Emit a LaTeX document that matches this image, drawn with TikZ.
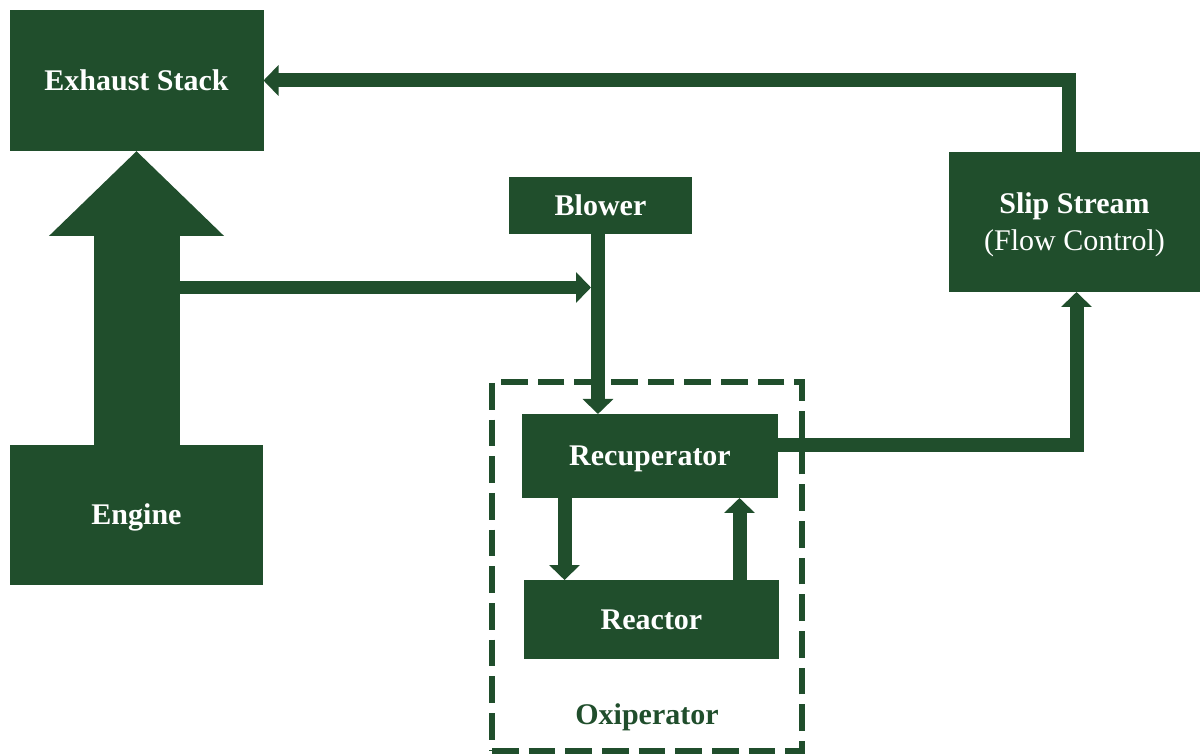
\documentclass[tikz,border=0pt]{standalone}
\usepackage{fontspec}
\setmainfont{Liberation Serif}
\usetikzlibrary{arrows.meta}
\definecolor{dg}{RGB}{32,78,44}
\begin{document}
\begin{tikzpicture}[x=0.75pt,y=-0.75pt,
  box/.style={fill=dg,text=white,inner sep=0pt,outer sep=0pt,align=center,
    font=\fontsize{22.5}{27.75}\selectfont},
  oneline/.style={text height=14.9pt,text depth=0pt},
  flow/.style={draw=dg,line width=10.5pt,-{Triangle[length=11.25pt,width=22.5pt]}},
  bigarrow/.style={draw=dg,line width=64.5pt,-{Triangle[length=63.75pt,width=127.5pt]}},
  dashbox/.style={draw=dg,line width=4.5pt,dash pattern=on 20pt off 7.5pt,inner sep=0pt,outer sep=0pt}]
\useasboundingbox (0,0) rectangle (1200,755);
% nodes
\node[box,oneline,minimum width=190.5pt,minimum height=105.75pt] (exhaust) at (136.5,80.5) {\bfseries Exhaust Stack};
\node[box,oneline,minimum width=190pt,minimum height=105pt] (engine) at (136.5,515) {\bfseries Engine};
\node[box,oneline,minimum width=137.25pt,minimum height=42.75pt] (blower) at (600.5,205.5) {\bfseries Blower};
\node[dashbox,minimum width=232.5pt,minimum height=276.75pt] (oxbox) at (647,566.5) {};
\node[box,oneline,minimum width=192pt,minimum height=63pt] (recup) at (650,456) {\bfseries Recuperator};
\node[box,oneline,minimum width=191.25pt,minimum height=59.25pt] (reactor) at (651.5,619.5) {\bfseries Reactor};
\node[box,minimum width=188.25pt,minimum height=105pt] (slip) at (1074.5,222)
  {\raisebox{-1.9pt}[\height][\depth]{\begin{tabular}{@{}c@{}}\bfseries Slip Stream\\(Flow Control)\end{tabular}}};
\node[text=dg,inner sep=0pt,oneline,font=\fontsize{22.5}{27.75}\selectfont\bfseries] (oxlabel) at (647,715) {Oxiperator};
% connectors
\draw[bigarrow] (engine.north) -- (exhaust.south);
\coordinate (tap) at (178,287.5);
\coordinate (bl) at (591,287.5);
\draw[flow,line width=9.75pt] (tap) -- (bl);
\draw[flow] ([xshift=-1.9pt]blower.south) -- ([xshift=-1.9pt]blower.south |- recup.north);
\draw[flow] ([xshift=-64.1pt]recup.south) -- ([xshift=-64.1pt]recup.south |- reactor.north);
\draw[flow] ([xshift=66pt]reactor.north) -- ([xshift=66pt]reactor.north |- recup.south);
\draw[flow] ([yshift=8.6pt]recup.east) -| ([xshift=1.5pt]slip.south);
\draw[flow] ([xshift=-4.1pt]slip.north) |- (exhaust.east);
\end{tikzpicture}
\end{document}
